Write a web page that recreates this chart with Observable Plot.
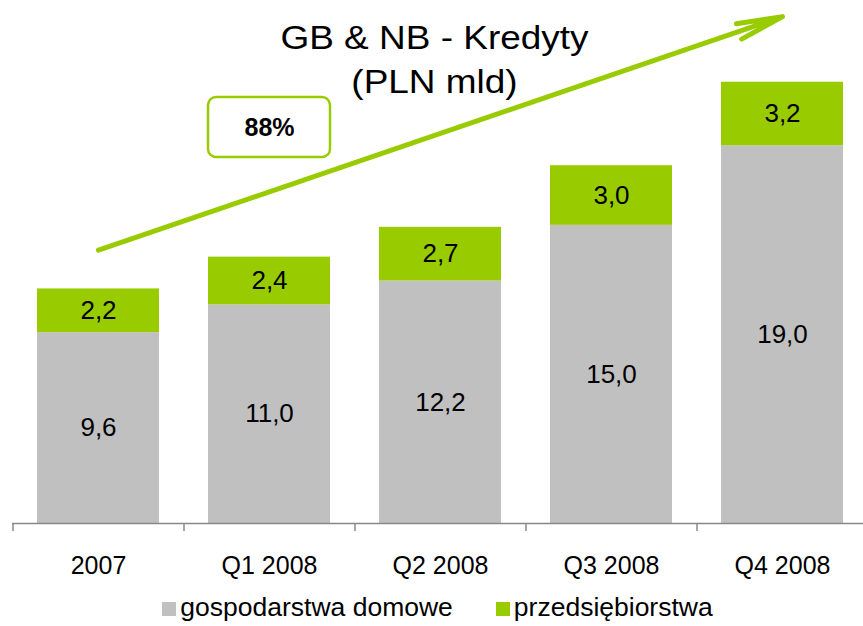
<!DOCTYPE html>
<html>
<head>
<meta charset="utf-8">
<script src="https://cdn.jsdelivr.net/npm/d3@7"></script>
<script src="https://cdn.jsdelivr.net/npm/@observablehq/plot@0.6"></script>
<style>
  body { margin: 0; background: #fff; font-family: "Liberation Sans", Arial, sans-serif; }
  #wrap { position: relative; width: 863px; height: 626px; overflow: hidden; }
  #title { position: absolute; top: 16px; left: 0; width: 869px; text-align: center;
           font-size: 33px; line-height: 44px; color: #000; pointer-events: none;
           transform: scaleX(1.12); transform-origin: 434.5px 0; }
  #legend { display: flex; justify-content: center; align-items: center; height: 41px;
            font-size: 26.5px; color: #000; padding-left: 12px; padding-top: 3px; box-sizing: border-box; }
  .item { display: flex; align-items: center; }
  .sw { width: 14px; height: 14px; margin-right: 4px; margin-top: 4px; }
</style>
</head>
<body>
<div id="wrap">
  <div id="chart"></div>
  <div id="title">GB &amp; NB - Kredyty<br>(PLN mld)</div>
  <div id="legend"></div>
</div>
<script>
const categories = ["2007", "Q1 2008", "Q2 2008", "Q3 2008", "Q4 2008"];
const series = ["gospodarstwa domowe", "przedsiębiorstwa"];
const colors = ["#C0C0C0", "#99CC00"];
const households = [9.6, 11.0, 12.2, 15.0, 19.0];
const companies = [2.2, 2.4, 2.7, 3.0, 3.2];
const growthLabel = "88%";
// annotation arrow (data units)
const arrowFrom = {x: "2007", y: 13.75};
const arrowTo = {x: "Q4 2008", y: 25.5};
const boxCategory = "Q1 2008";
const boxRange = [18.41, 21.43];
const boxTextY = 19.9;

const data = [];
categories.forEach((c, i) => {
  data.push({cat: c, series: series[0], value: households[i]});
  data.push({cat: c, series: series[1], value: companies[i]});
});
const fmt = v => v.toFixed(1).replace(".", ",");

const W = 863, H = 585, mL = 12, mR = -4, mB = 62;
const step = (W - mL - mR) / categories.length;
const font = "Liberation Sans, Arial, sans-serif";

const chart = Plot.plot({
  width: W, height: H,
  marginTop: 0, marginBottom: mB, marginLeft: mL, marginRight: mR,
  style: {fontFamily: font, background: "#fff", overflow: "visible"},
  x: {domain: categories, paddingInner: 0.287, paddingOuter: 0.1435, label: null},
  y: {domain: [0, 26.31], axis: null},
  color: {domain: series, range: colors},
  marks: [
    Plot.barY(data, {x: "cat", y: "value", fill: "series", order: series}),
    Plot.text(data, Plot.stackY({x: "cat", y: "value", z: "series", order: series,
      text: d => fmt(d.value), fontSize: 26, fill: "#000", fontFamily: font})),
    Plot.ruleY([0], {stroke: "#888888", strokeWidth: 1.5}),
    Plot.ruleX(categories, {x: d => d, dx: -step / 2, y1: 0, y2: -0.4, stroke: "#888888", strokeWidth: 1.5}),
    Plot.axisX({tickSize: 0, tickPadding: 33, fontSize: 25, fill: "#000", label: null, fontFamily: font}),
    Plot.barY([{cat: boxCategory}], {x: "cat", y1: boxRange[0], y2: boxRange[1], fill: "#fff",
      stroke: "#99CC00", strokeWidth: 2.5, rx: 8}),
    Plot.text([{cat: boxCategory}], {x: "cat", y: boxTextY, text: () => growthLabel,
      fontSize: 25, fontWeight: "bold", fill: "#000", fontFamily: font}),
    Plot.arrow([{a: arrowFrom, b: arrowTo}], {x1: d => d.a.x, y1: d => d.a.y, x2: d => d.b.x, y2: d => d.b.y,
      stroke: "#99CC00", strokeWidth: 5, headLength: 14, headAngle: 20})
  ]
});
document.getElementById("chart").appendChild(chart);

const legend = document.getElementById("legend");
series.forEach((s, i) => {
  const it = document.createElement("div");
  it.className = "item";
  if (i > 0) it.style.marginLeft = "43px";
  const sw = document.createElement("div");
  sw.className = "sw";
  sw.style.background = colors[i];
  const t = document.createElement("span");
  t.textContent = s;
  it.appendChild(sw); it.appendChild(t);
  legend.appendChild(it);
});
</script>
</body>
</html>
